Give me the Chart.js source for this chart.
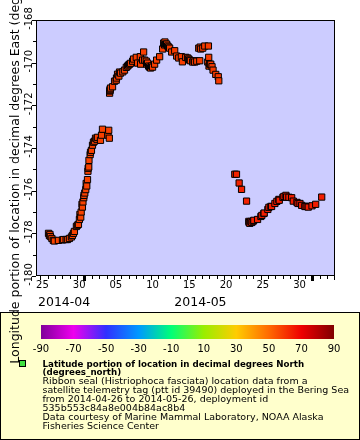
<!DOCTYPE html>
<html><head><meta charset="utf-8">
<script src="https://cdn.jsdelivr.net/npm/chart.js@4/dist/chart.umd.min.js"></script>
<style>html,body{margin:0;padding:0;background:#fff;}#wrap{width:360px;height:440px;position:relative}</style>
</head><body><div id="wrap"><canvas id="c" width="360" height="440"></canvas></div>
<script>
// time in days counted from 2014-03-31 (so 25 = 2014-04-25, 35 = 2014-05-05)
const timeDays = [
 26.10,26.22,26.30,26.36,26.56,26.76,26.90,27.45,28.00,28.14,
 28.50,28.68,28.95,29.22,29.36,29.50,29.63,29.90,30.04,30.18,
 30.31,30.38,30.49,30.55,30.66,30.72,30.79,30.90,30.93,31.04,
 31.17,31.23,31.31,31.41,31.47,31.50,31.58,31.61,31.77,31.82,
 31.95,32.09,32.22,32.36,32.50,32.70,32.77,33.18,33.32,33.45,
 34.20,34.30,34.38,
 34.42,34.45,34.48,34.50,34.54,34.82,35.09,35.32,35.36,35.50,
 35.68,35.77,35.91,36.22,36.45,36.69,36.86,37.00,37.14,37.27,
 37.55,37.68,38.05,38.23,38.60,38.64,38.91,39.05,39.18,39.41,
 39.46,39.59,39.73,39.86,40.00,40.14,40.27,40.55,40.82,41.23,
 41.64,41.78,41.91,41.95,42.05,42.18,42.32,42.46,42.59,42.87,
 43.28,43.55,43.83,44.19,44.33,44.78,45.05,45.19,45.32,45.42,
 45.73,45.91,46.00,46.28,46.55,46.69,46.76,46.82,47.10,47.37,
 47.78,47.87,47.91,47.95,48.05,48.19,48.36,48.50,48.87,49.21,
 49.28,
 51.46,51.69,52.05,52.38,53.06,53.37,53.41,53.51,53.64,53.78,
 53.96,54.05,54.56,55.01,55.14,55.42,55.46,55.96,56.10,56.37,
 56.47,56.92,57.19,57.46,57.51,58.01,58.15,58.42,58.51,58.83,
 59.20,59.42,59.92,60.06,60.33,60.56,61.01,61.05,61.29,61.46,
 61.97,62.47,63.29
];
const longitude = [
 -178.00,-178.10,-178.05,-178.15,-178.24,-178.33,-178.36,-178.33,-178.31,-178.29,
 -178.29,-178.29,-178.24,-178.17,-178.10,-178.00,-177.91,-177.68,-177.62,-177.58,
 -177.35,-177.11,-177.24,-177.00,-176.64,-176.77,-176.53,-176.33,-176.22,-176.11,
 -175.95,-175.66,-175.78,-175.48,-175.09,-174.95,-174.89,-174.58,-174.31,-174.20,
 -174.11,-173.87,-173.73,-173.68,-173.54,-173.59,-173.50,-173.64,-173.40,-173.12,
 -173.40,-173.17,-173.54,
 -171.43,-171.33,-171.29,-171.24,-171.19,-171.13,-170.87,-170.82,-170.72,-170.54,
 -170.63,-170.44,-170.49,-170.43,-170.35,-170.22,-170.16,-170.11,-170.07,-170.03,
 -169.93,-169.83,-169.75,-170.02,-169.72,-170.07,-169.88,-169.50,-169.88,-169.93,
 -170.07,-170.02,-170.16,-170.21,-170.25,-170.16,-170.21,-170.07,-169.88,-169.72,
 -169.36,-169.08,-169.17,-169.03,-169.13,-169.13,-169.22,-169.27,-169.32,-169.50,
 -169.44,-169.69,-169.78,-169.72,-169.96,-169.75,-169.78,-169.83,-169.88,-169.91,
 -169.97,-169.91,-169.97,-169.93,-169.32,-169.91,-169.27,-169.36,-169.32,-169.22,
 -169.97,-169.22,-169.75,-170.16,-170.07,-170.07,-170.19,-170.35,-170.55,-170.66,
 -170.85,
 -175.23,-175.23,-175.64,-175.94,-176.49,-177.44,-177.50,-177.53,-177.44,-177.49,
 -177.43,-177.39,-177.35,-177.21,-177.16,-177.07,-177.05,-176.88,-176.78,-176.74,
 -176.74,-176.60,-176.50,-176.41,-176.45,-176.31,-176.27,-176.22,-176.30,-176.31,
 -176.33,-176.49,-176.55,-176.60,-176.60,-176.69,-176.74,-176.74,-176.74,-176.77,
 -176.71,-176.64,-176.30
];
// latitude (degrees north) drives the marker colour
const latitude = [
 57.3,57.3,57.3,57.3,57.4,57.4,57.4,57.4,57.5,57.5,
 57.5,57.5,57.5,57.5,57.5,57.6,57.6,57.6,57.6,57.6,
 57.6,57.6,57.6,57.7,57.7,57.7,57.7,57.7,57.7,57.8,
 57.8,57.8,57.8,57.8,57.8,57.8,57.8,57.8,57.9,57.9,
 57.9,57.9,57.9,57.9,57.9,57.9,57.9,57.9,58.0,58.0,
 58.0,58.0,58.0,
 58.0,58.0,58.0,58.0,58.0,58.0,58.1,58.1,58.1,58.1,
 58.1,58.1,58.1,58.1,58.2,58.2,58.2,58.2,58.2,58.2,
 58.2,58.2,58.3,58.3,58.3,58.3,58.3,58.3,58.3,58.3,
 58.4,58.4,58.4,58.4,58.4,58.4,58.4,58.4,58.4,58.5,
 58.5,58.5,58.5,58.5,58.5,58.5,58.5,58.5,58.5,58.5,
 58.6,58.6,58.6,58.6,58.6,58.6,58.6,58.7,58.7,58.7,
 58.7,58.7,58.7,58.7,58.8,58.8,58.8,58.8,58.8,58.8,
 58.9,58.9,58.9,58.9,58.9,59.0,59.0,59.0,59.1,59.1,
 59.1,
 63.5,63.5,63.6,63.7,63.8,64.0,64.0,64.0,64.0,64.1,
 64.1,64.1,64.1,64.2,64.2,64.2,64.2,64.3,64.3,64.3,
 64.3,64.4,64.4,64.4,64.4,64.5,64.5,64.5,64.5,64.5,
 64.6,64.6,64.6,64.6,64.6,64.7,64.7,64.7,64.7,64.7,
 64.8,64.8,64.8
];
const xTickDays = [25,30,35,40,45,50,55,60];
const xTickLabels = ['25','30','05','10','15','20','25','30'];
const monthStartDays = [31,62];
const monthLabels = ['2014-04','2014-05'];
const monthLabelDays = [24.67,43.23];
const yTicks = [-180,-178,-176,-174,-172,-170,-168];
const colorbarTicks = [-90,-70,-50,-30,-10,10,30,50,70,90];
const colorStopValues = [-90,-70,-50,-30,-10,10,30,50,70,90];
const colorStopColors = ['#80009a','#ee00ee','#3030ff','#0099ff','#00ff77','#99ee00','#ffcc00','#ff6a00','#ee0000','#800000'];
const yTitle = 'Longitude portion of location in decimal degrees East (degrees_east)';
const legendTitle = ['Latitude portion of location in decimal degrees North','(degrees_north)'];
const legendLines = [
 'Ribbon seal (Histriophoca fasciata) location data from a',
 'satellite telemetry tag (ptt id 39490) deployed in the Bering Sea',
 'from 2014-04-26 to 2014-05-26, deployment id',
 '535b553c84a8e004b84ac8b4',
 'Data courtesy of Marine Mammal Laboratory, NOAA Alaska',
 'Fisheries Science Center'
];

function hexToRgb(h){return [parseInt(h.substr(1,2),16),parseInt(h.substr(3,2),16),parseInt(h.substr(5,2),16)];}
function colorFor(v){
  for(let i=0;i<colorStopValues.length-1;i++){
    const a=colorStopValues[i],b=colorStopValues[i+1];
    if(v>=a&&v<=b){
      const t=(v-a)/(b-a),c1=hexToRgb(colorStopColors[i]),c2=hexToRgb(colorStopColors[i+1]);
      return 'rgb('+c1.map((c,k)=>Math.round(c+(c2[k]-c)*t)).join(',')+')';
    }
  }
  return colorStopColors[colorStopColors.length-1];
}

const FONT='"DejaVu Sans", sans-serif';
Chart.defaults.font.family = FONT;

const decor = {
  id:'decor',
  beforeDraw(chart){
    const ctx=chart.ctx, a=chart.chartArea;
    ctx.save();
    ctx.fillStyle='#fff'; ctx.fillRect(0,0,chart.width,chart.height);
    ctx.fillStyle='#ccccff'; ctx.fillRect(a.left,a.top,a.right-a.left,a.bottom-a.top);
    ctx.restore();
  },
  afterDraw(chart){
    const ctx=chart.ctx, a=chart.chartArea, xs=chart.scales.x, ys=chart.scales.y;
    ctx.save();
    ctx.strokeStyle='#000'; ctx.lineWidth=1;
    ctx.strokeRect(a.left+0.5,a.top+0.5,a.right-a.left-1,a.bottom-a.top-1);
    ctx.fillStyle='#000';
    for(let d=Math.ceil(xs.min); d<=xs.max; d++){
      const px=Math.round(xs.getPixelForValue(d));
      const len=(d%5===0)?4:3;
      ctx.fillRect(px,a.bottom,1,len);
    }
    monthStartDays.forEach(d=>{
      const px=Math.round(xs.getPixelForValue(d));
      ctx.fillRect(px-1,a.bottom,3,5);
    });
    for(let v=Math.ceil(ys.min); v<=ys.max; v++){
      const py=Math.round(ys.getPixelForValue(v));
      const len=(v%2===0)?4:3;
      ctx.fillRect(a.left-len,py,len,1);
    }
    ctx.font='10px '+FONT; ctx.textAlign='center'; ctx.textBaseline='alphabetic';
    ys.ticks.forEach(t=>{
      const py=ys.getPixelForValue(t.value);
      ctx.save(); ctx.translate(31.7,py-1.5); ctx.rotate(-Math.PI/2);
      ctx.fillText(String(t.value),0,0); ctx.restore();
    });
    ctx.font='12.5px '+FONT; ctx.textAlign='left';
    monthLabels.forEach((m,i)=>{
      ctx.fillText(m, xs.getPixelForValue(monthLabelDays[i]), 306);
    });
    // legend box
    ctx.fillStyle='#ffffcc'; ctx.fillRect(0,312,360,128);
    ctx.strokeStyle='#000'; ctx.strokeRect(0.5,312.5,359,127);
    const cbL=41, cbR=334, cbT=325, cbB=339;
    const g=ctx.createLinearGradient(cbL,0,cbR,0);
    colorStopValues.forEach((v,i)=>g.addColorStop((v+90)/180,colorStopColors[i]));
    ctx.fillStyle=g; ctx.fillRect(cbL,cbT,cbR-cbL,cbB-cbT);
    ctx.fillStyle='#000'; ctx.font='10px '+FONT; ctx.textAlign='center';
    colorbarTicks.forEach(v=>{
      ctx.fillText(String(v), cbL+(v+90)/180*(cbR-cbL), 352);
    });
    ctx.fillStyle='#40e040'; ctx.fillRect(19.5,360.5,6,6);
    ctx.strokeStyle='#000'; ctx.strokeRect(19.5,360.5,6,6);
    ctx.fillStyle='#000'; ctx.textAlign='left';
    ctx.font='bold 8.7px '+FONT;
    legendTitle.forEach((s,i)=>ctx.fillText(s,42.5,366.5+i*8.5));
    ctx.font='9.5px '+FONT;
    legendLines.forEach((s,i)=>ctx.fillText(s,42.5,384+i*9));
    ctx.font='12.5px '+FONT; ctx.textAlign='center';
    ctx.save(); ctx.translate(18.5,(a.top+a.bottom)/2); ctx.rotate(-Math.PI/2);
    ctx.fillText(yTitle,0,0); ctx.restore();
    ctx.restore();
  }
};

new Chart(document.getElementById('c'),{
  type:'scatter',
  data:{datasets:[{
    data: timeDays.map((d,i)=>({x:d,y:longitude[i]})),
    pointStyle:'rect', pointRadius:4.4, pointHoverRadius:4.4,
    pointBorderWidth:1, pointBorderColor:'#000',
    pointBackgroundColor: latitude.map(colorFor)
  }]},
  options:{
    responsive:false, animation:false, devicePixelRatio:1,
    layout:{padding:{left:0,top:20,right:25,bottom:0}},
    plugins:{legend:{display:false},tooltip:{enabled:false}},
    scales:{
      x:{type:'linear',min:24.4,max:65.1,
        grid:{display:false,drawTicks:false}, border:{display:false},
        afterBuildTicks:s=>{s.ticks=xTickDays.map(v=>({value:v}));},
        afterFit:s=>{s.height=164;},
        ticks:{autoSkip:false,maxRotation:0,minRotation:0,padding:3,labelOffset:2,color:'#000',font:{size:10,family:FONT},
          callback:(v)=>{const i=xTickDays.indexOf(v);return i>=0?xTickLabels[i]:'';}}
      },
      y:{type:'linear',min:-180,max:-168,
        grid:{display:false,drawTicks:false}, border:{display:false},
        afterBuildTicks:s=>{s.ticks=yTicks.map(v=>({value:v}));},
        afterFit:s=>{s.width=36;},
        ticks:{display:false}
      }
    }
  },
  plugins:[decor]
});
</script></body></html>
